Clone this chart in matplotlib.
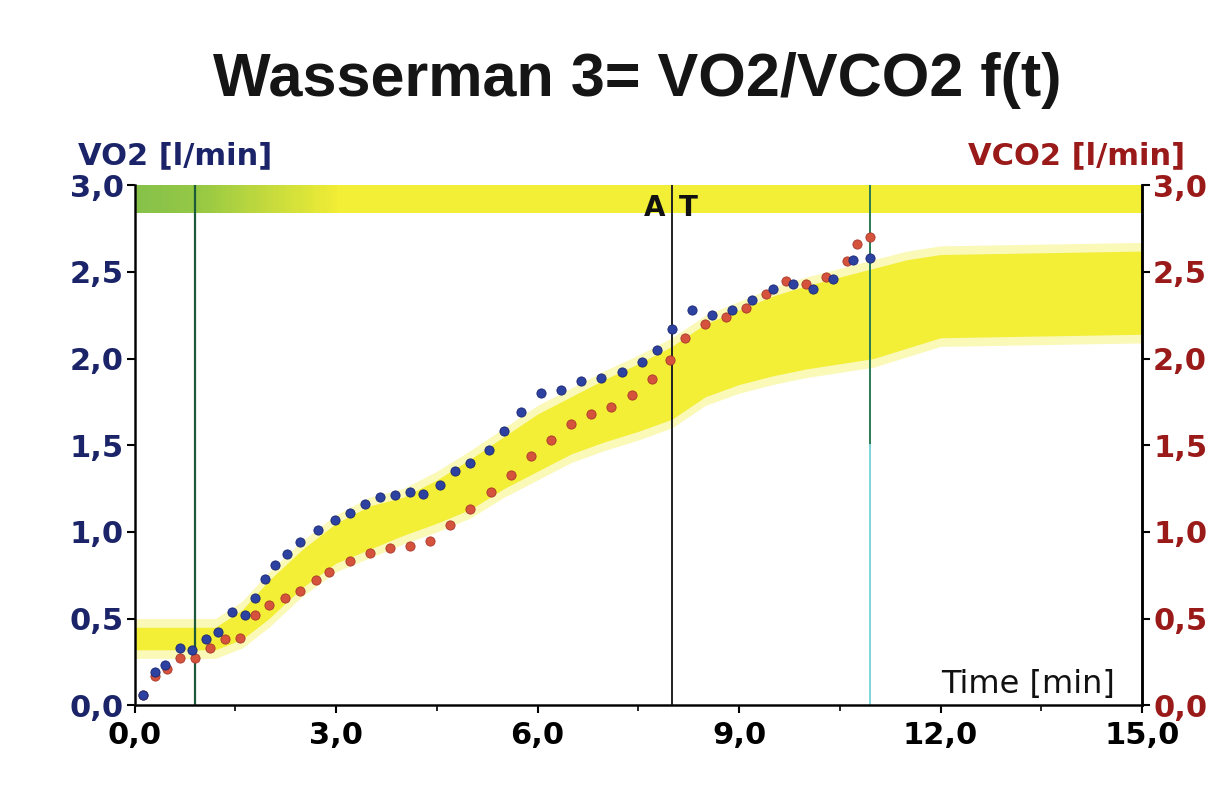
import numpy as np
import matplotlib
matplotlib.use("Agg")
import matplotlib.pyplot as plt
from matplotlib.colors import LinearSegmentedColormap

plt.rcParams['font.family'] = ['DejaVu Sans']

# ---- data ----
t_vo2 = [0.12, 0.30, 0.45, 0.67, 0.85, 1.07, 1.24, 1.45, 1.64, 1.79, 1.94, 2.09, 2.27,
         2.46, 2.73, 2.98, 3.20, 3.43, 3.65, 3.87, 4.10, 4.30, 4.55, 4.77, 5.00, 5.27,
         5.50, 5.75, 6.05, 6.35, 6.65, 6.95, 7.25, 7.55, 7.78, 8.00, 8.30, 8.60, 8.90,
         9.20, 9.50, 9.80, 10.10, 10.40, 10.70, 10.95]
vo2 = [0.06, 0.19, 0.23, 0.33, 0.32, 0.38, 0.42, 0.54, 0.52, 0.62, 0.73, 0.81, 0.87,
       0.94, 1.01, 1.07, 1.11, 1.16, 1.20, 1.21, 1.23, 1.22, 1.27, 1.35, 1.40, 1.47,
       1.58, 1.69, 1.80, 1.82, 1.87, 1.89, 1.92, 1.98, 2.05, 2.17, 2.28, 2.25, 2.28,
       2.34, 2.40, 2.43, 2.40, 2.46, 2.57, 2.58]

t_vco2 = [0.12, 0.30, 0.48, 0.67, 0.90, 1.12, 1.34, 1.57, 1.79, 2.00, 2.24, 2.46, 2.70,
          2.90, 3.20, 3.50, 3.80, 4.10, 4.40, 4.70, 5.00, 5.30, 5.60, 5.90, 6.20, 6.50,
          6.80, 7.10, 7.40, 7.70, 7.97, 8.20, 8.50, 8.80, 9.10, 9.40, 9.70, 10.00, 10.30,
          10.60, 10.75, 10.95]
vco2 = [0.06, 0.17, 0.21, 0.27, 0.27, 0.33, 0.38, 0.39, 0.52, 0.58, 0.62, 0.66, 0.72,
        0.77, 0.83, 0.88, 0.91, 0.92, 0.95, 1.04, 1.13, 1.23, 1.33, 1.44, 1.53, 1.62,
        1.68, 1.72, 1.79, 1.88, 1.99, 2.12, 2.20, 2.24, 2.29, 2.37, 2.45, 2.43, 2.47,
        2.56, 2.66, 2.70]

# predicted (reference) band
t_band = [0, 1.2, 1.6, 2.0, 2.5, 3.0, 3.5, 4.0, 4.5, 5.0, 5.5, 6.0, 6.5, 7.0, 7.5, 8.0,
          8.5, 9.0, 9.5, 10.0, 10.5, 11.0, 11.5, 12.0, 15.0]
band_lo = [0.32, 0.32, 0.38, 0.50, 0.68, 0.82, 0.90, 0.98, 1.05, 1.13, 1.25, 1.35, 1.45,
           1.52, 1.58, 1.65, 1.78, 1.85, 1.90, 1.94, 1.97, 2.00, 2.06, 2.12, 2.14]
band_hi = [0.45, 0.45, 0.55, 0.72, 0.90, 1.05, 1.15, 1.20, 1.30, 1.42, 1.55, 1.68, 1.78,
           1.88, 1.97, 2.07, 2.20, 2.28, 2.36, 2.42, 2.47, 2.52, 2.57, 2.60, 2.62]
top_band = [2.84, 3.0]

t_start, t_at, t_end = 0.9, 8.0, 10.95

xticks = [0, 3, 6, 9, 12, 15]
yticks = [0, 0.5, 1.0, 1.5, 2.0, 2.5, 3.0]

NAVY = '#1b2468'
DARKRED = '#9a1a1a'
YELLOW = '#f3ee36'


def comma(v):
    return f"{v:.1f}".replace('.', ',')


fig = plt.figure(figsize=(12.24, 7.88), dpi=100)
ax = fig.add_axes([0.110, 0.105, 0.823, 0.66])
ax.set_xlim(0, 15)
ax.set_ylim(0, 3.0)

# top band with green -> yellow gradient
grad = np.linspace(0, 1, 300)[None, :]
cmap_top = LinearSegmentedColormap.from_list(
    'top', [(0, '#86c24a'), (0.06, '#96c845'), (0.2, YELLOW), (1, YELLOW)])
ax.imshow(grad, extent=[0, 15, top_band[0], top_band[1]], aspect='auto',
          cmap=cmap_top, zorder=1)

# soft yellow prediction band
lo = np.array(band_lo)
hi = np.array(band_hi)
ax.fill_between(t_band, lo - 0.05, hi + 0.05, color=YELLOW, alpha=0.35, lw=0, zorder=1)
ax.fill_between(t_band, lo, hi, color=YELLOW, lw=0, zorder=1)

# event lines
ax.axvline(t_start, color='#1c5a3a', lw=1.6, zorder=2)
ax.axvline(t_at, color='#222222', lw=1.4, zorder=2)
ax.plot([t_end, t_end], [1.5, 3.0], color='#2a7a55', lw=1.4, zorder=2)
ax.plot([t_end, t_end], [0, 1.5], color='#7fd6d8', lw=1.4, zorder=2)
ax.text(t_at - 0.1, 2.87, 'A', ha='right', va='center', fontsize=20,
        fontweight='bold', color='#111111', zorder=3)
ax.text(t_at + 0.1, 2.87, 'T', ha='left', va='center', fontsize=20,
        fontweight='bold', color='#111111', zorder=3)

# data
ax.scatter(t_vco2, vco2, s=44, color='#d5533d', edgecolors='#a8372a', lw=0.6, zorder=4)
ax.scatter(t_vo2, vo2, s=44, color='#2c41a0', edgecolors='#1a2770', lw=0.6, zorder=5)

# axes styling
ax.spines['top'].set_visible(False)
for s in ['left', 'bottom', 'right']:
    ax.spines[s].set_linewidth(1.8)
    ax.spines[s].set_color('#111111')

ax.set_xticks(xticks)
ax.set_xticklabels([comma(v) for v in xticks], fontsize=22, fontweight='bold')
ax.set_xticks(np.arange(1.5, 15, 3), minor=True)
ax.tick_params(axis='x', which='major', length=6, width=1.5, pad=5)
ax.tick_params(axis='x', which='minor', length=4, width=1.2)

ax.set_yticks(yticks)
ax.set_yticklabels([comma(v) for v in yticks], fontsize=22, fontweight='bold', color=NAVY)
ax.tick_params(axis='y', length=6, width=1.5, pad=2)

ax2 = ax.twinx()
ax2.set_ylim(0, 3.0)
ax2.spines['top'].set_visible(False)
ax2.spines['right'].set_linewidth(1.8)
ax2.set_yticks(yticks)
ax2.set_yticklabels([comma(v) for v in yticks], fontsize=22, fontweight='bold', color=DARKRED)
ax2.tick_params(axis='y', length=6, width=1.5, pad=2)

ax.text(14.6, 0.03, 'Time [min]', ha='right', va='bottom', fontsize=23, color='#111111')

fig.text(0.521, 0.898, 'Wasserman 3= VO2/VCO2 f(t)', ha='center', va='center',
         fontsize=44, fontweight='bold', color='#151515',
         family=['Liberation Sans', 'DejaVu Sans'])
fig.text(0.064, 0.802, 'VO2 [l/min]', ha='left', va='center', fontsize=22,
         fontweight='bold', color=NAVY)
fig.text(0.968, 0.802, 'VCO2 [l/min]', ha='right', va='center', fontsize=22,
         fontweight='bold', color=DARKRED)

fig.savefig('out.png', dpi=100)
